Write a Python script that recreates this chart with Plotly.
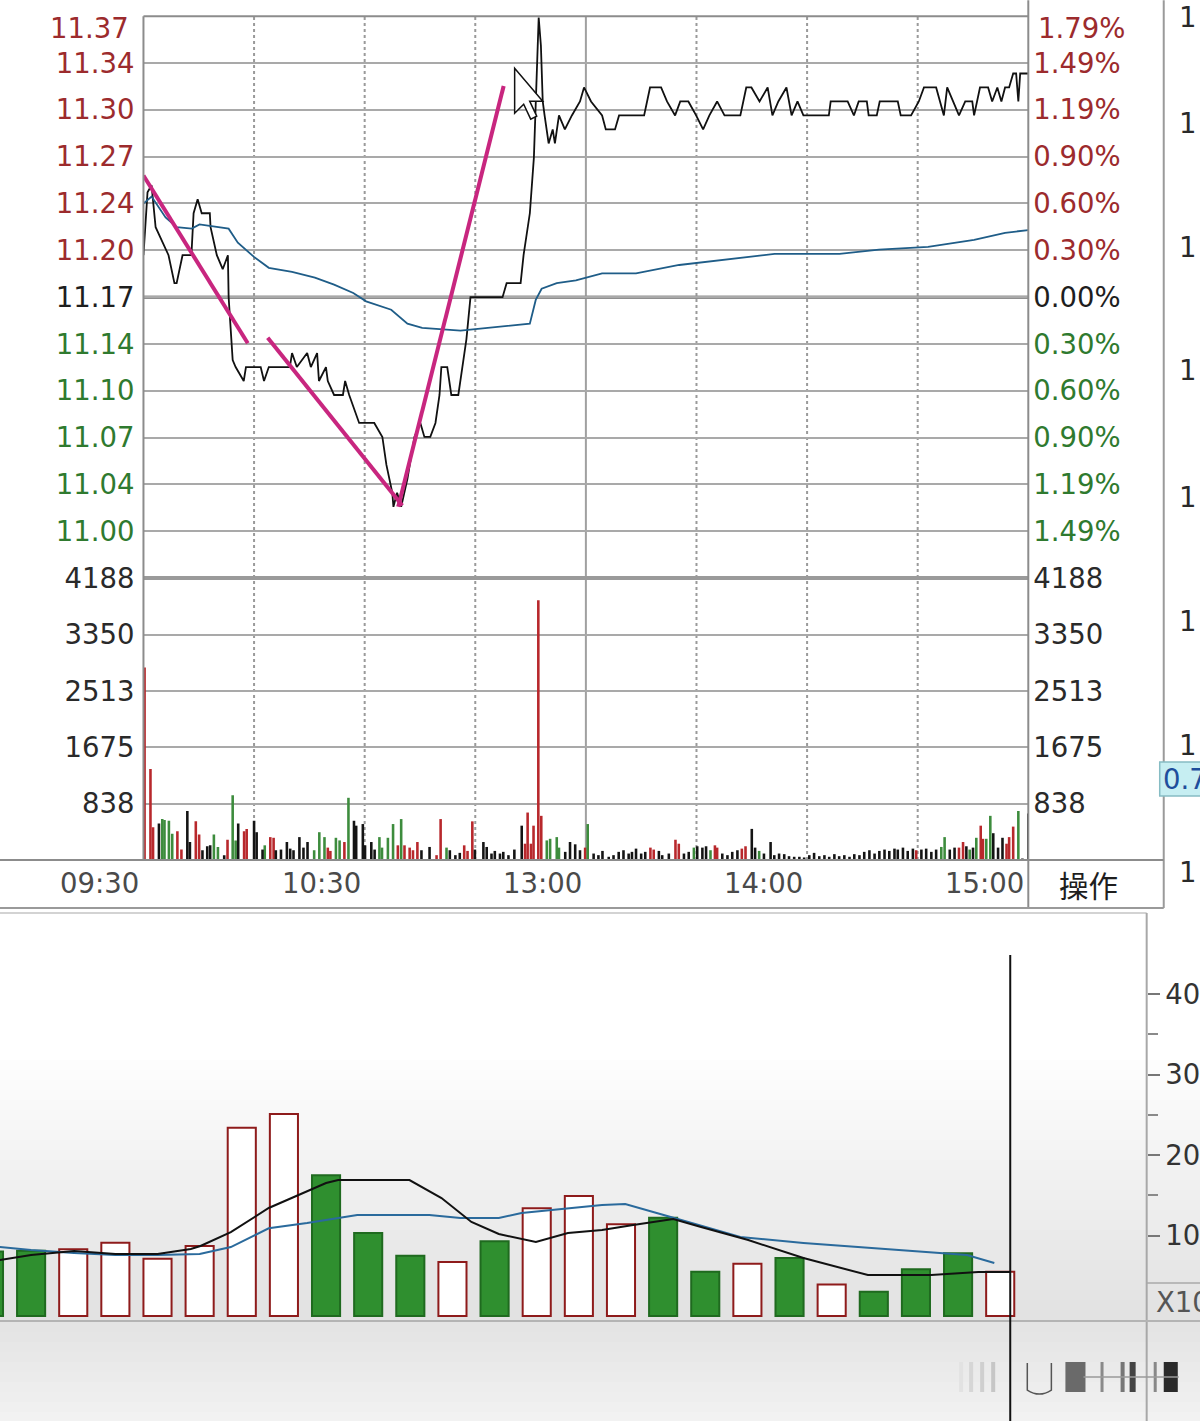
import plotly.graph_objects as go

W, H = 1200, 1421

# ===================== 分时图数据 =====================
PRE_CLOSE = 11.17          # 昨收
STEP = 0.0335              # 每格 0.30%

price_levels = [6, 5, 4, 3, 2, 1, 0, -1, -2, -3, -4, -5]
price_labels = ["11.37", "11.34", "11.30", "11.27", "11.24", "11.20",
                "11.17", "11.14", "11.10", "11.07", "11.04", "11.00"]
pct_labels = ["1.79%", "1.49%", "1.19%", "0.90%", "0.60%", "0.30%",
              "0.00%", "0.30%", "0.60%", "0.90%", "1.19%", "1.49%"]

vol_ticks = [4188, 3350, 2513, 1675, 838]
vol_labels = ["4188", "3350", "2513", "1675", "838"]

time_ticks = [0, 60, 120, 180, 240]
time_labels = ["09:30", "10:30", "13:00", "14:00", "15:00"]
dotted_minutes = [30, 60, 90, 150, 180, 210]
noon_minute = 120

# 价格线（分钟, 价格）
price_time = [
    0, 1.1, 2.2, 3.3, 6.8, 8.4, 9.0, 10.6, 13.0, 13.6,
    14.7, 15.8, 18.0, 18.2, 19.9, 21.5, 22.9, 23.1, 24.2, 25.0,
    27.2, 27.8, 31.8, 32.7, 34.0, 39.7, 40.3, 41.6, 44.4, 45.4,
    47.1, 47.6, 49.5, 50.0, 51.7, 54.1, 54.7, 55.8, 58.5, 59.6,
    62.6, 64.8, 65.9, 66.7, 67.5, 67.8, 68.8, 69.9, 71.6, 73.5,
    75.1, 76.2, 77.8, 79.2, 80.3, 80.8, 82.4, 83.5, 84.4, 85.4,
    86.5, 87.6, 88.7, 89.8, 97.4, 98.5, 102.3, 103.1, 104.8, 105.9,
    107.2, 107.8, 108.3, 108.8, 109.4, 109.9, 111.0, 111.6, 112.7, 114.3,
    116.2, 118.4, 119.5, 121.4, 124.4, 125.4, 127.9, 129.0, 135.8, 137.4,
    139.0, 140.4, 142.0, 144.2, 145.6, 147.8, 149.9, 151.8, 153.5, 155.6,
    157.6, 161.9, 163.5, 164.9, 167.1, 169.3, 170.6, 172.2, 174.4, 175.8,
    177.4, 179.0, 185.9, 186.4, 191.0, 192.7, 194.0, 196.2, 196.7, 198.9,
    199.7, 204.6, 205.4, 208.2, 210.3, 211.7, 215.0, 216.0, 217.1, 218.0,
    219.6, 221.2, 222.9, 224.8, 225.3, 226.9, 229.1, 230.2, 231.6, 232.7,
    233.7, 234.8, 235.9, 236.7, 237.3, 237.8, 238.9, 240.0,
]
price_value = [
    11.20, 11.245, 11.25, 11.22, 11.20, 11.18, 11.18, 11.20, 11.20, 11.23,
    11.24, 11.23, 11.23, 11.22, 11.20, 11.19, 11.20, 11.17, 11.125, 11.12,
    11.11, 11.12, 11.12, 11.11, 11.12, 11.12, 11.13, 11.12, 11.13, 11.12,
    11.13, 11.11, 11.12, 11.11, 11.10, 11.10, 11.11, 11.10, 11.08, 11.08,
    11.08, 11.07, 11.05, 11.04, 11.03, 11.02, 11.03, 11.02, 11.04, 11.07,
    11.08, 11.07, 11.07, 11.08, 11.10, 11.12, 11.12, 11.10, 11.10, 11.10,
    11.12, 11.14, 11.17, 11.17, 11.17, 11.18, 11.18, 11.20, 11.23, 11.27,
    11.37, 11.35, 11.31, 11.30, 11.29, 11.28, 11.29, 11.28, 11.30, 11.29,
    11.30, 11.31, 11.32, 11.31, 11.30, 11.29, 11.29, 11.30, 11.30, 11.32,
    11.32, 11.32, 11.31, 11.30, 11.31, 11.31, 11.30, 11.29, 11.30, 11.31,
    11.30, 11.30, 11.32, 11.32, 11.31, 11.32, 11.30, 11.31, 11.32, 11.30,
    11.31, 11.30, 11.30, 11.31, 11.31, 11.30, 11.31, 11.31, 11.30, 11.30,
    11.31, 11.31, 11.30, 11.30, 11.31, 11.32, 11.32, 11.31, 11.30, 11.32,
    11.31, 11.30, 11.31, 11.31, 11.30, 11.32, 11.32, 11.31, 11.32, 11.31,
    11.32, 11.32, 11.33, 11.33, 11.31, 11.33, 11.33, 11.33,
]

# 均价线
avg_time = [0, 2.2, 6.0, 9.0, 13.1, 15.2, 23.1, 25.6, 29.9, 34.0,
            40.3, 46.5, 51.7, 56.9, 60.4, 67.2, 71.6, 75.6, 86.0, 94.4,
            104.8, 106.4, 108.0, 112.1, 117.3, 124.4, 133.6, 145.3, 155.6, 171.2,
            188.8, 199.5, 212.8, 225.3, 233.7, 240.0]
avg_value = [11.237, 11.242, 11.227, 11.220, 11.219, 11.222, 11.219, 11.209, 11.199, 11.191,
             11.188, 11.184, 11.179, 11.173, 11.167, 11.161, 11.151, 11.148, 11.146, 11.148,
             11.151, 11.168, 11.176, 11.180, 11.182, 11.187, 11.187, 11.193, 11.196, 11.201,
             11.201, 11.204, 11.206, 11.211, 11.216, 11.218]

# 手绘趋势线（三段）
draw_time = [[0, 28.3], [33.7, 70.2], [69.1, 97.7]]
draw_price = [[11.257, 11.137], [11.141, 11.021], [11.020, 11.321]]

# 分时成交量（上午）
vol_t_am = [0.3, 1.9, 2.6, 4.2, 5.1, 5.7, 6.9, 7.8, 9.2, 10.3,
            11.9, 12.6, 14.2, 15.1, 16.0, 17.3, 18.1, 19.1, 20.2, 21.9,
            22.8, 24.2, 25.0, 25.7, 27.3, 28.0, 30.0, 30.7, 32.3, 32.9,
            34.4, 35.3, 35.9, 37.3, 38.9, 39.8, 40.7, 42.3, 43.4, 44.5,
            46.3, 47.7, 49.1, 50.0, 50.7, 52.2, 53.2, 54.5, 55.6, 57.1,
            57.7, 59.5, 60.1, 61.8, 62.7, 64.0, 64.7, 66.3, 67.7, 69.0,
            69.9, 70.8, 72.2, 73.1, 74.3, 75.4, 77.6, 79.5, 80.6, 82.2,
            83.1, 84.6, 85.8, 87.0, 87.9, 89.2, 89.9, 92.2, 93.1, 94.4,
            95.3, 96.7, 97.6, 99.0, 100.6, 102.6, 103.5, 104.2, 105.1, 105.8,
            107.1, 107.9, 109.4, 110.3, 112.1, 112.7, 114.4, 115.7, 117.1, 118.4]
vol_v_am = [2860, 1354, 487, 545, 609, 594, 584, 390, 428, 156,
            730, 268, 575, 380, 146, 205, 219, 380, 195, 73,
            302, 964, 292, 545, 428, 463, 584, 414, 156, 219,
            341, 331, 146, 156, 268, 170, 146, 341, 185, 268,
            146, 414, 341, 185, 136, 331, 292, 268, 925, 584,
            511, 535, 219, 268, 156, 341, 185, 331, 535, 219,
            609, 219, 185, 146, 268, 146, 195, 73, 609, 185,
            146, 73, 107, 219, 136, 575, 156, 268, 195, 97,
            136, 97, 122, 73, 156, 511, 243, 706, 243, 511,
            3860, 657, 292, 316, 341, 185, 122, 268, 234, 146]
vol_c_am = ["r", "r", "r", "k", "g", "g", "g", "g", "r", "r",
            "k", "k", "r", "r", "k", "k", "k", "g", "g", "k",
            "r", "g", "g", "k", "r", "r", "k", "k", "k", "g",
            "r", "r", "k", "k", "k", "k", "k", "k", "k", "k",
            "g", "g", "g", "r", "r", "g", "g", "r", "g", "k",
            "k", "k", "k", "k", "k", "g", "g", "g", "g", "r",
            "g", "r", "r", "r", "r", "k", "k", "r", "r", "g",
            "k", "k", "k", "r", "r", "r", "k", "k", "k", "k",
            "k", "k", "k", "k", "k", "k", "r", "r", "r", "r",
            "r", "r", "g", "g", "g", "g", "k", "k", "k", "k"]

# 分时成交量（下午）
vol_t_pm = [119.8, 120.5, 122.1, 123.4, 124.5, 126.2, 127.5, 128.9, 130.2, 131.6,
            132.5, 133.6, 135.0, 136.1, 137.5, 138.4, 139.8, 140.7, 142.5, 144.3,
            145.2, 146.6, 147.9, 149.3, 150.2, 151.6, 152.6, 153.8, 155.0, 155.6,
            157.0, 158.4, 159.7, 161.1, 162.3, 163.3, 165.0, 165.9, 167.0, 168.3,
            170.1, 171.1, 172.4, 173.8, 175.1, 176.5, 177.9, 179.2, 180.6, 181.9,
            183.3, 184.7, 186.0, 187.4, 188.7, 190.1, 191.5, 192.8, 194.2, 195.5,
            196.9, 198.3, 199.6, 201.0, 202.3, 203.7, 204.6, 206.0, 207.3, 208.7,
            209.6, 211.0, 212.3, 213.7, 215.0, 216.4, 217.3, 218.7, 220.0, 221.2,
            222.3, 223.2, 224.1, 225.0, 225.9, 227.1, 227.7, 228.6, 229.7, 230.5,
            231.8, 233.0, 234.1, 234.8, 235.9, 237.3, 238.4, 240.0]
vol_v_pm = [185, 535, 97, 73, 136, 49, 73, 122, 146, 97,
            122, 170, 97, 122, 185, 156, 136, 73, 97, 302,
            243, 97, 122, 185, 205, 185, 205, 146, 219, 185,
            97, 73, 122, 146, 170, 205, 463, 185, 136, 97,
            268, 73, 97, 88, 58, 49, 49, 39, 73, 107,
            58, 73, 49, 88, 58, 73, 49, 88, 73, 122,
            146, 97, 136, 156, 136, 170, 156, 185, 136, 170,
            146, 156, 170, 122, 156, 195, 341, 156, 185, 185,
            268, 205, 156, 185, 331, 511, 316, 316, 657, 399,
            185, 331, 243, 341, 497, 730, 24, 692]
vol_c_pm = ["r", "g", "k", "k", "k", "k", "k", "k", "k", "k",
            "k", "k", "k", "k", "r", "r", "k", "k", "k", "r",
            "r", "k", "k", "g", "k", "k", "k", "g", "r", "r",
            "k", "k", "k", "k", "r", "r", "k", "k", "g", "k",
            "k", "k", "k", "k", "k", "k", "k", "k", "k", "k",
            "k", "k", "k", "k", "k", "k", "k", "k", "k", "k",
            "k", "k", "k", "k", "k", "k", "k", "k", "k", "k",
            "r", "k", "k", "k", "k", "g", "g", "k", "k", "r",
            "r", "k", "g", "k", "g", "r", "r", "g", "g", "k",
            "k", "k", "r", "r", "r", "g", "k", "k"]

# ===================== 下方日成交量柱 =====================
bar_index = list(range(25))
bar_volume = [8.0, 8.1, 8.3, 9.1, 7.1, 8.7, 23.4, 25.1, 17.5, 10.3,
              7.5, 6.7, 9.3, 13.4, 14.9, 11.4, 12.2, 5.5, 6.5, 7.2,
              3.9, 3.0, 5.8, 7.8, 5.5]
bar_up = [0, 0, 1, 1, 1, 1, 1, 1, 0, 0,
          0, 1, 0, 1, 1, 1, 0, 0, 1, 0,
          1, 0, 0, 0, 1]

ma5_x = [0.26, 1.0, 2.02, 3.0, 4.0, 4.79, 5.02, 5.74, 6.64, 7.36,
         8.0, 8.29, 9.98, 10.74, 11.45, 12.1, 12.98, 13.74, 14.55, 15.29,
         16.24, 16.9, 18.02, 19.33, 20.86, 22.36, 23.48, 24.24]
ma5_v = [6.96, 7.58, 8.07, 7.70, 7.70, 8.32, 8.70, 10.43, 13.42, 15.03,
         16.52, 16.89, 16.89, 14.66, 11.68, 10.19, 9.19, 10.31, 10.68, 11.30,
         12.05, 11.06, 9.44, 7.20, 5.09, 5.09, 5.47, 5.47]
ma10_x = [0.26, 1.0, 2.02, 3.0, 4.0, 5.0, 5.74, 6.64, 7.55, 8.19,
          8.74, 10.45, 11.19, 12.1, 12.64, 14.55, 15.1, 16.43, 17.83, 19.33,
          20.67, 22.26, 23.21, 23.86]
ma10_v = [8.57, 8.20, 7.83, 7.58, 7.58, 7.70, 8.57, 10.9, 11.55, 12.05,
          12.55, 12.55, 12.17, 12.17, 12.80, 13.79, 13.91, 11.93, 9.81, 9.07,
          8.57, 7.95, 7.58, 6.58]
bot_ticks = [10, 20, 30, 40]
bot_minor = [15, 25, 35]

side_labels_y = [123, 247, 370, 497, 621, 745, 872]   # 右侧被截断的 "1"

# ===================== 样式 =====================
FONT = "DejaVu Sans"
FS = 27.5
RED_TXT, GREEN_TXT, BLACK_TXT = "#9c2b2d", "#2f7a2f", "#1e1e1e"
GRID = "#a9a9a9"
VOL_COLORS = {"r": "#b8282c", "g": "#3d8c3d", "k": "#141414"}

# 截图时页面会被缩放并在顶部留白，坐标按截图位置换算
SX = 1215 / 1200
SY = 1437 / 1421
OY = 16


def px(x):
    return x * SX / W


def py(y):
    return 1 - (y * SY - OY) / H


def line_shape(x0, y0, x1, y1, color, width, dash="solid", layer="above"):
    return dict(type="line", xref="paper", yref="paper",
                x0=px(x0), y0=py(y0), x1=px(x1), y1=py(y1),
                line=dict(color=color, width=width, dash=dash), layer=layer)


def rect_shape(x0, y0, x1, y1, fill, line_color=None, width=0, layer="below"):
    return dict(type="rect", xref="paper", yref="paper",
                x0=px(x0), y0=py(y0), x1=px(x1), y1=py(y1),
                fillcolor=fill, line=dict(color=line_color or fill, width=width),
                layer=layer)


def text_at(x, y, text, color, anchor="left", size=FS, family=FONT):
    return dict(x=px(x), y=py(y), xref="paper", yref="paper", text=text,
                showarrow=False, xanchor=anchor, yanchor="middle",
                font=dict(family=family, size=size, color=color))


def colored(text, level):
    c = RED_TXT if level > 0 else (GREEN_TXT if level < 0 else BLACK_TXT)
    return f"<span style='color:{c}'>{text}</span>"


price_tickvals = [PRE_CLOSE + k * STEP for k in price_levels]
price_range = [PRE_CLOSE - 6 * STEP, PRE_CLOSE + 6 * STEP]
# 顶格标签放到注释里，避免被页面顶部裁掉
left_text = ["" if k == 6 else colored(t, k) for t, k in zip(price_labels, price_levels)]
right_text = ["" if k == 6 else colored(t, k) for t, k in zip(pct_labels, price_levels)]

fig = go.Figure()

# 价格线、均价线
fig.add_trace(go.Scatter(x=price_time, y=price_value, mode="lines",
                         line=dict(color="#111111", width=1.8), xaxis="x", yaxis="y"))
fig.add_trace(go.Scatter(x=avg_time, y=avg_value, mode="lines",
                         line=dict(color="#1f5d88", width=1.8), xaxis="x", yaxis="y"))
for tx, pv in zip(draw_time, draw_price):
    fig.add_trace(go.Scatter(x=tx, y=pv, mode="lines",
                             line=dict(color="#c8267f", width=4), xaxis="x", yaxis="y"))
# 右侧坐标轴需要挂一条不可见的轨迹才会绘制
fig.add_trace(go.Scatter(x=[0], y=[PRE_CLOSE], mode="markers", opacity=0,
                         xaxis="x", yaxis="y2"))
fig.add_trace(go.Scatter(x=[0], y=[0], mode="markers", opacity=0,
                         xaxis="x2", yaxis="y4"))

# 分时成交量
vol_t = vol_t_am + vol_t_pm
vol_v = vol_v_am + vol_v_pm
vol_c = vol_c_am + vol_c_pm
for code, col in VOL_COLORS.items():
    xs = [t for t, c in zip(vol_t, vol_c) if c == code]
    ys = [v for v, c in zip(vol_v, vol_c) if c == code]
    fig.add_trace(go.Bar(x=xs, y=ys, width=0.7, marker=dict(color=col, line=dict(width=0)),
                         xaxis="x2", yaxis="y3"))

# 下方成交量柱
fill = ["#ffffff" if u else "#2f8f2f" for u in bar_up]
edge = ["#8e1b1b" if u else "#1f6a1f" for u in bar_up]
fig.add_trace(go.Bar(x=bar_index, y=bar_volume, width=0.667,
                     marker=dict(color=fill, line=dict(color=edge, width=2)),
                     xaxis="x3", yaxis="y5"))
fig.add_trace(go.Scatter(x=ma10_x, y=ma10_v, mode="lines",
                         line=dict(color="#2a6a9c", width=2), xaxis="x3", yaxis="y5"))
fig.add_trace(go.Scatter(x=ma5_x, y=ma5_v, mode="lines",
                         line=dict(color="#111111", width=2), xaxis="x3", yaxis="y5"))

# ===================== 形状 =====================
shapes = []
# 下方面板渐变背景
n = 26
for i in range(n):
    y0 = 1060 + i * 10
    g = int(255 - (255 - 226) * (i + 1) / n)
    shapes.append(rect_shape(0, y0, W, y0 + 10, f"rgb({g},{g},{g})"))
for i in range(10):
    y0 = 1322 + i * 10
    g = int(228 + 14 * i / 9)
    shapes.append(rect_shape(0, y0, W, y0 + 10, f"rgb({g},{g},{g})"))

# 竖向时间网格
for m in dotted_minutes:
    shapes.append(dict(type="line", xref="x", yref="paper", x0=m, x1=m,
                       y0=py(860), y1=py(16), layer="below",
                       line=dict(color="#9a9a9a", width=2, dash="dot")))
shapes.append(dict(type="line", xref="x", yref="paper", x0=noon_minute, x1=noon_minute,
                   y0=py(860), y1=py(16), layer="below",
                   line=dict(color="#a0a0a0", width=2)))

# 昨收线、分隔线
shapes.append(line_shape(143, 297, 1025, 297, "#8f8f8f", 3.5, layer="below"))
shapes.append(line_shape(143, 578, 1025, 578, "#9a9a9a", 4, layer="below"))
# 外框
shapes.append(line_shape(143, 16, 1025, 16, "#8c8c8c", 2))
shapes.append(line_shape(143, 16, 143, 860, "#8c8c8c", 2))
shapes.append(line_shape(1025, 0, 1025, 908, "#8c8c8c", 2))
shapes.append(line_shape(1160, 0, 1160, 908, "#9a9a9a", 2))
shapes.append(line_shape(0, 860, 1160, 860, "#8c8c8c", 2))
shapes.append(line_shape(0, 908, 1160, 908, "#9a9a9a", 2))
shapes.append(line_shape(0, 913, 1143, 913, "#c4c4c4", 1.5))
# 右侧残留数值框
shapes.append(rect_shape(1156, 762, 1202, 796, "#c6eef2", "#86bcc4", 1.5, layer="above"))

# 下方面板线
shapes.append(line_shape(1143, 913, 1143, H, "#a8a8a8", 2))
shapes.append(line_shape(0, 1321, W, 1321, "#b4b4b4", 2))
shapes.append(line_shape(1143, 1283, W, 1283, "#a8a8a8", 1.5))
shapes.append(line_shape(1007, 955, 1007, H, "#111111", 2))

# 底部滚动条图标
for x0, x1, c in [(956, 960, "#e2e2e2"), (966, 970, "#d6d6d6"), (977, 981, "#cfcfcf"),
                  (988, 992, "#c6c6c6"), (1062, 1082, "#6a6a6a"), (1097, 1100, "#8a8a8a"),
                  (1117, 1121, "#777777"), (1126, 1132, "#444444"), (1150, 1153, "#888888"),
                  (1160, 1174, "#2a2a2a")]:
    shapes.append(rect_shape(x0, 1362, x1, 1392, c, layer="above"))
shapes.append(line_shape(1080, 1377, 1175, 1377, "#9a9a9a", 1.5))
shapes.append(dict(type="path", xref="paper", yref="paper", layer="above",
                   path=f"M{px(1024)},{py(1363)} L{px(1024)},{py(1390)} Q{px(1036)},{py(1398)} "
                        f"{px(1048)},{py(1390)} L{px(1048)},{py(1363)}",
                   line=dict(color="#555555", width=1.5), fillcolor="rgba(0,0,0,0)"))

# 鼠标指针
cursor = [(513, 68), (513, 113), (522, 104), (529, 119), (535, 116), (528, 101), (541, 101)]
path = "M" + " L".join(f"{px(x)},{py(y)}" for x, y in cursor) + " Z"
shapes.append(dict(type="path", xref="paper", yref="paper", path=path, layer="above",
                   fillcolor="white", line=dict(color="#111111", width=1.5)))

# ===================== 注释文字 =====================
annotations = []
for t, lab in zip(time_ticks, time_labels):
    annotations.append(dict(x=t, xref="x", y=py(883), yref="paper", text=lab,
                            showarrow=False, xanchor="right", yanchor="middle", xshift=-2,
                            font=dict(family=FONT, size=FS, color="#4a4a4a")))
annotations.append(text_at(131, 28, price_labels[0], RED_TXT, anchor="right"))
annotations.append(text_at(1033, 28, pct_labels[0], RED_TXT))
annotations.append(text_at(1085, 884, "操作", "#1e1e1e", anchor="center", size=29.5,
                           family="Noto Sans CJK SC"))
annotations.append(text_at(1173, 17, "1", "#2a2a2a"))
for yy in side_labels_y:
    annotations.append(text_at(1173, yy, "1", "#2a2a2a"))
annotations.append(text_at(1157, 779, "0.7", "#1f4e9c"))
annotations.append(text_at(1150, 1302, "X10", "#555555"))

# ===================== 坐标轴 =====================
tick_font = dict(family=FONT, size=FS)
vol_font = dict(family=FONT, size=FS, color="#2a2a2a")
price_dom = [py(578), py(16)]
vol_dom = [py(860), py(578)]
x_dom = [px(143), px(1025)]

fig.update_layout(
    width=W, height=H,
    margin=dict(l=0, r=0, t=0, b=0),
    paper_bgcolor="white", plot_bgcolor="rgba(0,0,0,0)",
    showlegend=False, hovermode=False, barmode="overlay",
    shapes=shapes, annotations=annotations,
    xaxis=dict(domain=x_dom, range=[0, 240], visible=False, anchor="y"),
    yaxis=dict(domain=price_dom, range=price_range, tickvals=price_tickvals,
               ticktext=left_text, ticks="", showgrid=True, gridcolor=GRID, gridwidth=2,
               zeroline=False, showline=False, tickfont=tick_font, ticklabelstandoff=8,
               anchor="x"),
    yaxis2=dict(overlaying="y", side="right", range=price_range, tickvals=price_tickvals,
                ticktext=right_text, ticks="", showgrid=False, zeroline=False,
                showline=False, tickfont=tick_font, ticklabelstandoff=4, anchor="x"),
    xaxis2=dict(domain=x_dom, range=[0, 240], visible=False, anchor="y3"),
    yaxis3=dict(domain=vol_dom, range=[0, 4188], tickvals=vol_ticks, ticktext=vol_labels,
                ticks="", showgrid=True, gridcolor=GRID, gridwidth=2, zeroline=False,
                showline=False, tickfont=vol_font, ticklabelstandoff=8, anchor="x2"),
    yaxis4=dict(overlaying="y3", side="right", range=[0, 4188], tickvals=vol_ticks,
                ticktext=vol_labels, ticks="", showgrid=False, zeroline=False, showline=False,
                tickfont=vol_font, ticklabelstandoff=4, anchor="x2"),
    xaxis3=dict(domain=[0, px(1143)], range=[11 / 42, 1154 / 42], visible=False, anchor="y5"),
    yaxis5=dict(domain=[py(1320), py(912)], range=[-4 / 8.05, 404 / 8.05], side="right",
                tickvals=bot_ticks, ticktext=[str(v) for v in bot_ticks],
                ticks="outside", ticklen=12, tickwidth=2, tickcolor="#777777",
                minor=dict(tickvals=bot_minor, ticks="outside", ticklen=10, tickwidth=2,
                           tickcolor="#8a8a8a"),
                showgrid=False, zeroline=False, showline=False,
                tickfont=dict(family=FONT, size=FS, color="#333333"),
                ticklabelstandoff=0, anchor="x3"),
)

# 去掉页面边距，图固定在左上角
fig.write_html(
    "out.html",
    config={"displayModeBar": False, "staticPlot": True},
    post_script=(
        "document.documentElement.style.margin='0';document.body.style.margin='0';"
        "document.documentElement.style.overflow='hidden';document.body.style.overflow='hidden';"
        "var d=document.getElementById('{plot_id}');d.style.position='absolute';"
        "d.style.top='0px';d.style.left='0px';"
    ),
)
